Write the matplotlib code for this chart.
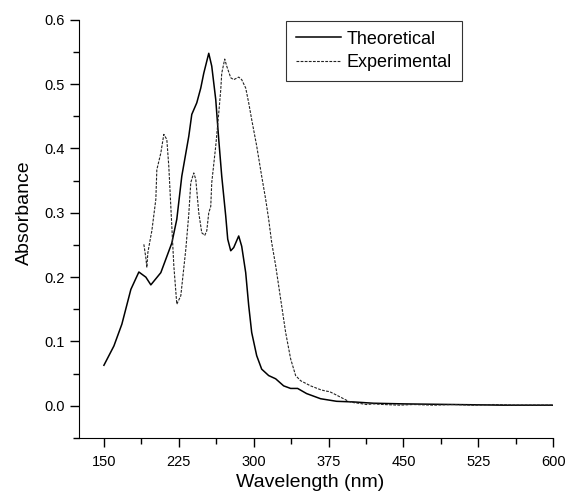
import numpy as np
import matplotlib.pyplot as plt
from matplotlib.ticker import MultipleLocator

plt.rcParams['font.family'] = ['Liberation Sans', 'DejaVu Sans']

theo_x = [150, 160, 168, 177, 185, 192, 197, 207, 218, 223, 228, 235, 238, 243,
          247, 250, 255, 258, 262, 265, 268, 272, 274, 277, 280, 285, 288, 292,
          295, 298, 303, 308, 315, 322, 330, 337, 344, 353, 367, 383, 400, 420,
          450, 500, 550, 600]
theo_y = [0.063, 0.093, 0.127, 0.181, 0.208, 0.200, 0.188, 0.207, 0.253, 0.290,
          0.357, 0.419, 0.453, 0.471, 0.494, 0.517, 0.548, 0.528, 0.476, 0.414,
          0.357, 0.295, 0.259, 0.241, 0.246, 0.264, 0.248, 0.207, 0.156, 0.114,
          0.078, 0.057, 0.047, 0.042, 0.031, 0.027, 0.027, 0.019, 0.011, 0.007,
          0.006, 0.004, 0.003, 0.002, 0.001, 0.001]

exp_x = [190, 192, 193, 194, 197, 198, 202, 203, 207, 210, 213, 215, 217, 220,
         223, 227, 232, 235, 237, 240, 242, 245, 248, 251, 253, 255, 257, 258,
         262, 265, 267, 268, 271, 273, 277, 280, 285, 288, 292, 295, 298, 303,
         308, 312, 315, 318, 322, 327, 332, 337, 342, 347, 352, 357, 362, 367,
         372, 376, 380, 385, 390, 395, 400, 405, 413, 420, 430, 446, 460, 480,
         500, 520, 540, 560, 580, 600]
exp_y = [0.251, 0.230, 0.215, 0.238, 0.264, 0.272, 0.321, 0.367, 0.393, 0.422,
         0.414, 0.372, 0.310, 0.218, 0.158, 0.171, 0.243, 0.298, 0.347, 0.362,
         0.352, 0.300, 0.269, 0.265, 0.272, 0.300, 0.310, 0.347, 0.404, 0.455,
         0.491, 0.517, 0.539, 0.528, 0.510, 0.507, 0.511, 0.507, 0.494, 0.471,
         0.445, 0.404, 0.357, 0.321, 0.290, 0.254, 0.218, 0.166, 0.114, 0.073,
         0.047, 0.039, 0.035, 0.031, 0.028, 0.025, 0.023, 0.022, 0.019, 0.015,
         0.011, 0.007, 0.005, 0.004, 0.002, 0.003, 0.002, 0.001, 0.002, 0.001,
         0.002, 0.001, 0.002, 0.001, 0.001, 0.001]

fig = plt.figure(figsize=(5.68, 4.96), dpi=100)
ax = fig.add_axes([0.139, 0.117, 0.835, 0.843])

ax.plot(theo_x, theo_y, color='black', lw=1.1, label='Theoretical')
ax.plot(exp_x, exp_y, color='#222222', lw=0.8, dashes=(2.5, 1.2),
        label='Experimental')

ax.set_xlim(125, 600)
ax.set_ylim(-0.05, 0.6)
ax.xaxis.set_minor_locator(MultipleLocator(37.5))
ax.yaxis.set_minor_locator(MultipleLocator(0.05))
ax.set_xticks(np.arange(150, 601, 75))
ax.set_yticks(np.arange(0, 0.61, 0.1))
ax.set_yticklabels(['%.1f' % v for v in np.arange(0, 0.61, 0.1)])
ax.tick_params(which='both', direction='out', labelsize=10.5, width=1)
ax.tick_params(which='major', length=6.5)
ax.tick_params(which='minor', length=4.5)
ax.tick_params(axis='x', which='major', pad=6)

for s in ['top', 'right']:
    ax.spines[s].set_visible(False)

ax.set_xlabel('Wavelength (nm)', fontsize=14)
ax.set_ylabel('Absorbance', fontsize=14)
ax.xaxis.set_label_coords(0.487, -0.086)
ax.yaxis.set_label_coords(-0.097, 0.538)

leg = ax.legend(loc='upper left', bbox_to_anchor=(0.437, 0.998), fontsize=13,
                frameon=True, fancybox=False, edgecolor='black',
                handlelength=2.5, handletextpad=0.3, borderpad=0.55,
                labelspacing=0.35, borderaxespad=0)
leg.get_frame().set_linewidth(0.8)

fig.savefig('out.png', dpi=100)
